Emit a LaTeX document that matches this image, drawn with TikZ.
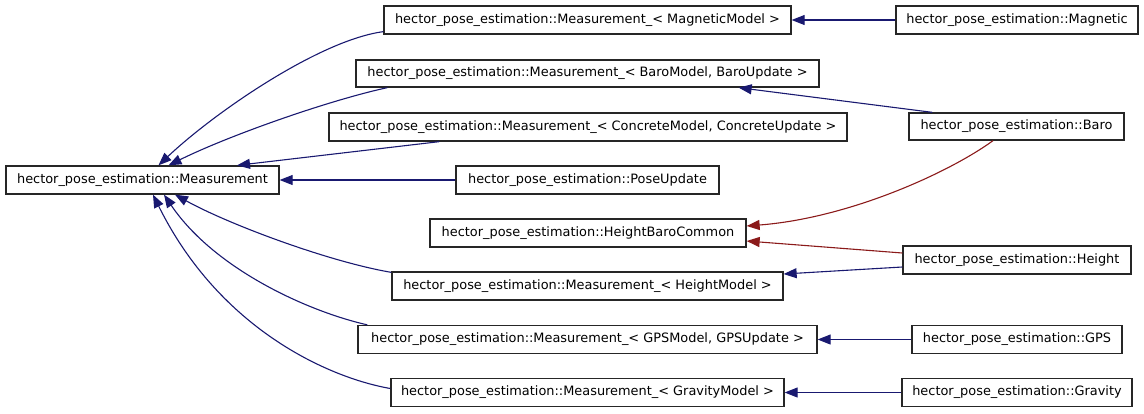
\documentclass[tikz,border=0pt]{standalone}
\usepackage{fontspec}
\setmainfont{DejaVu Sans}
\usetikzlibrary{arrows.meta,calc}
\definecolor{edgeblue}{HTML}{191970}
\definecolor{edgered}{HTML}{8B1A1A}
\begin{document}
\begin{tikzpicture}[x=1pt,y=-1pt,
  cls/.style={draw=black!85,line width=1.3pt,fill=white,minimum height=28pt,inner sep=0pt,
    font=\fontsize{12.9}{15}\selectfont},
  inh/.style={draw=edgeblue,line width=1.1pt,-{Triangle[length=13pt,width=10pt]}},
  inhr/.style={draw=edgered,line width=1.1pt,-{Triangle[length=13pt,width=10pt]}}]
\useasboundingbox (0,0) rectangle (1144,413);
% nodes
\node[cls,minimum width=273pt] (meas) at (142.5,180) {hector\_pose\_estimation::Measurement};
\node[cls,minimum width=407pt] (magm) at (587.5,20) {hector\_pose\_estimation::Measurement\_< MagneticModel >};
\node[cls,minimum width=463pt,minimum height=27pt] (barom) at (587.5,73.5) {hector\_pose\_estimation::Measurement\_< BaroModel, BaroUpdate >};
\node[cls,minimum width=518pt] (concm) at (588,127) {hector\_pose\_estimation::Measurement\_< ConcreteModel, ConcreteUpdate >};
\node[cls,minimum width=263pt] (pose) at (587.5,180) {hector\_pose\_estimation::PoseUpdate};
\node[cls,minimum width=316pt] (hbc) at (588,233) {hector\_pose\_estimation::HeightBaroCommon};
\node[cls,minimum width=391pt] (heightm) at (587.5,286) {hector\_pose\_estimation::Measurement\_< HeightModel >};
\node[cls,minimum width=459pt] (gpsm) at (587.5,339.5) {hector\_pose\_estimation::Measurement\_< GPSModel, GPSUpdate >};
\node[cls,minimum width=393pt] (gravm) at (587.5,392.5) {hector\_pose\_estimation::Measurement\_< GravityModel >};
\node[cls,minimum width=242pt] (magnetic) at (1017,20) {hector\_pose\_estimation::Magnetic};
\node[cls,minimum width=215pt,minimum height=27pt] (baro) at (1016.5,126.5) {hector\_pose\_estimation::Baro};
\node[cls,minimum width=228pt] (height) at (1017,260) {hector\_pose\_estimation::Height};
\node[cls,minimum width=210pt] (gps) at (1017,339.5) {hector\_pose\_estimation::GPS};
\node[cls,minimum width=230pt] (gravity) at (1017,392.5) {hector\_pose\_estimation::Gravity};
% edges to Measurement
\draw[inh] ($(magm.south west)+(0,-3)$) .. controls (320,40) and (215,112) .. ($(meas.north)+(16,0)$);
\draw[inh] ($(barom.south west)+(32,0)$) .. controls (330,100) and (230,135) .. ($(meas.north)+(26,0)$);
\draw[inh] ($(concm.south west)+(111,0)$) -- ($(meas.north)+(94.5,0)$);
\draw[inh] (pose.west) -- (meas.east);
\draw[inh] ($(heightm.north west)+(0,1)$) .. controls (330,262) and (230,225) .. ($(meas.south)+(32.5,0)$);
\draw[inh] ($(gpsm.north west)+(10,0)$) .. controls (310,312) and (215,270) .. ($(meas.south)+(21.5,0)$);
\draw[inh] ($(gravm.west)+(0,-4)$) .. controls (330,378) and (220,330) .. ($(meas.south)+(10.5,0)$);
% right column edges
\draw[inh] (magnetic.west) -- (magm.east);
\draw[inh] ($(baro.north west)+(24,0)$) -- ($(barom.south east)+(-81,0)$);
\draw[inhr] ($(baro.south)+(-23.5,0)$) .. controls (950,172) and (850,218) .. ($(hbc.east)+(0,-7)$);
\draw[inhr] ($(height.west)+(0,-7)$) -- ($(hbc.east)+(0,8)$);
\draw[inh] ($(height.west)+(0,7)$) -- ($(heightm.east)+(0,-12)$);
\draw[inh] (gps.west) -- (gpsm.east);
\draw[inh] (gravity.west) -- (gravm.east);
\end{tikzpicture}
\end{document}
